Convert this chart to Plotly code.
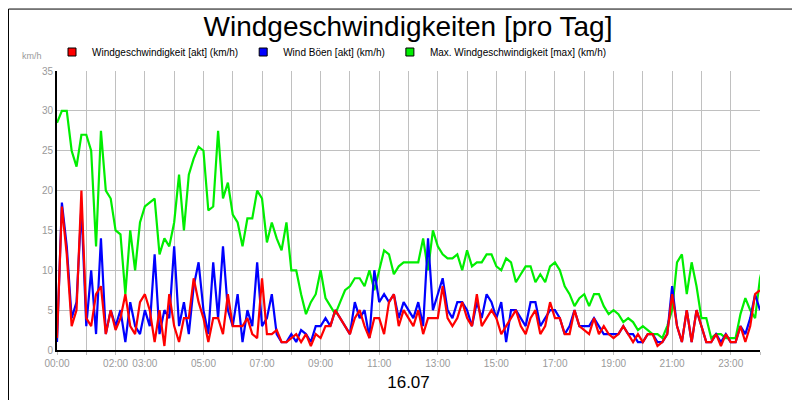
import plotly.graph_objects as go

green = [28.5,30,30,25,23,27, 27,25,13,27.5,20,19, 15,14.5,7,15,10,16, 18,18.5,19,12,14,13,
 16,22,15,22,24,25.5, 25,17.5,18,27.5,19,21, 17,16,13,16.5,16.5,20, 19,13.5,16,14,12.5,16,
 10,10,7,4.5,6,7, 10,6.5,5.5,4.5,6,7.5, 8,9,9,8,10,7.5, 10,12.5,12,9.5,10.5,11,
 11,11,11,14,10,15, 13,12,11.5,11.5,12,10, 12.5,10.5,11,11,12,12, 10.5,10,11.5,11,8.5,9.5,
 10.5,10.5,8.5,9.5,8.5,10.5, 11,10,8,7,5.5,6.5, 7,5.5,7,7,5.5,4.5, 5,4.5,3.5,4,3.5,2.5,
 3,2.5,2,2,1.5,3, 5,11,12,7,11,8, 4,4,1.5,2,2,1.5, 1.5,1.5,4.5,6.5,5,4, 9,11.5]
red = [1.5,18,12,3,5,20, 4,3,7,8,2,5, 2.5,4,7,3,2,6, 7,5,1,5,0.5,7, 3,1,4,4,9,6, 4,1,4,4,2,7,
 3,3,3,4,2,1.5, 9,2,2,2.5,1,1, 1.5,2,1,2,0.5,2, 1.5,3,3,5,4,3, 2,4,5,3,1.5,4, 4,2,6,7,3,5,
 4,3,5,2,4,4, 4,8,4,3,4,6, 4,3,7,3,4,5, 4,2,3,4,5,3, 2,4,5,2,3,6, 4,4,2,2,5,3,
 2.5,2,4,2,3,2, 1.5,2,3,2,1,2, 1,2,2,0.5,1,2, 7,3,1,5,1,5, 3,1,1,2,0.5,2, 1,1,3,1,3,7, 7.5]
blue = [1,18.5,13,4,6,18, 3,10,2,14,2,5, 3,5,1,6,3,2, 5,3,12,2,5,4, 13,3,6,2,8,11, 5,2,11,4,13,5,
 3,7,1,5,3,11, 3,4,7,2,1,1, 2,1,2.5,2,1,3, 3,4,3,5,4,3, 2,6,4,5,1.5,10, 6,7,6,7,4,6,
 5,4,6,3,14,5, 7,9,5,4,6,6, 5,3,6,4,7,6, 4,6,1,5,5,4, 3,6,6,3,4,5, 5,4,2,3,5,3,
 3,3,4,3,2,2, 2,2,3,2,2,1, 1,2,2,1,1,2, 8,3,1,5,1,5, 3,1,1,2,1,2, 1,1,3,2,4,7, 5]
x = [i/6 for i in range(len(green))]
labels = ["Windgeschwindigkeit [akt] (km/h)", "Wind Böen [akt] (km/h)", "Max. Windgeschwindigkeit [max] (km/h)"]
hour_text = ["00:00","","02:00","03:00","","05:00","","07:00","","09:00","","11:00","","13:00","",
             "15:00","","17:00","","19:00","","21:00","","23:00",""]

fig = go.Figure()
for ys, c in [(green,"#00ee00"),(blue,"#0000ff"),(red,"#ff0000")]:
    fig.add_trace(go.Scatter(x=x, y=ys, mode="lines", line=dict(color=c, width=2.2), showlegend=False))
for name, c in zip(labels, ["#ff0000","#0000ff","#00ee00"]):
    fig.add_trace(go.Scatter(x=[None], y=[None], mode="markers", name=name,
                             marker=dict(symbol="square", size=8, color=c, line=dict(color="black", width=1))))
fig.update_layout(
    width=800, height=400, margin=dict(l=49, r=48, t=63, b=58, autoexpand=False),
    paper_bgcolor="white", plot_bgcolor="white",
    font=dict(family="Liberation Sans, Arial", size=10, color="black"),
    title=dict(text="Windgeschwindigkeiten [pro Tag]", x=0.5, xanchor="center", yref="container",
               y=0.955, yanchor="middle", font=dict(size=28)),
    legend=dict(orientation="h", x=0.055, y=0.89, xref="container", yref="container",
                xanchor="left", yanchor="middle", font=dict(size=10), itemwidth=30,
                bgcolor="rgba(0,0,0,0)"),
    xaxis=dict(range=[0,24], tickvals=list(range(25)), ticktext=hour_text, showgrid=True,
               gridcolor="#c0c0c0", tickfont=dict(color="#999999", size=10), showline=True,
               linecolor="black", linewidth=2, ticks="outside", tickcolor="#c0c0c0", ticklen=3,
               title=dict(text="16.07", font=dict(size=17), standoff=8), zeroline=False),
    yaxis=dict(range=[0,35], dtick=5, showgrid=True, gridcolor="#c0c0c0",
               tickfont=dict(color="#999999", size=10), showline=True, linecolor="black", linewidth=2,
               zeroline=False, ticks=""),
    shapes=[dict(type="rect", xref="paper", yref="paper", x0=-0.069, x1=1.067, y0=-0.206, y1=1.222,
                 line=dict(color="black", width=1))],
    annotations=[dict(text="km/h", xref="paper", yref="paper", x=-0.035, y=1.03, showarrow=False,
                      xanchor="center", yanchor="bottom", font=dict(size=9, color="#999999"))],
)
fig.write_html("out.html")
